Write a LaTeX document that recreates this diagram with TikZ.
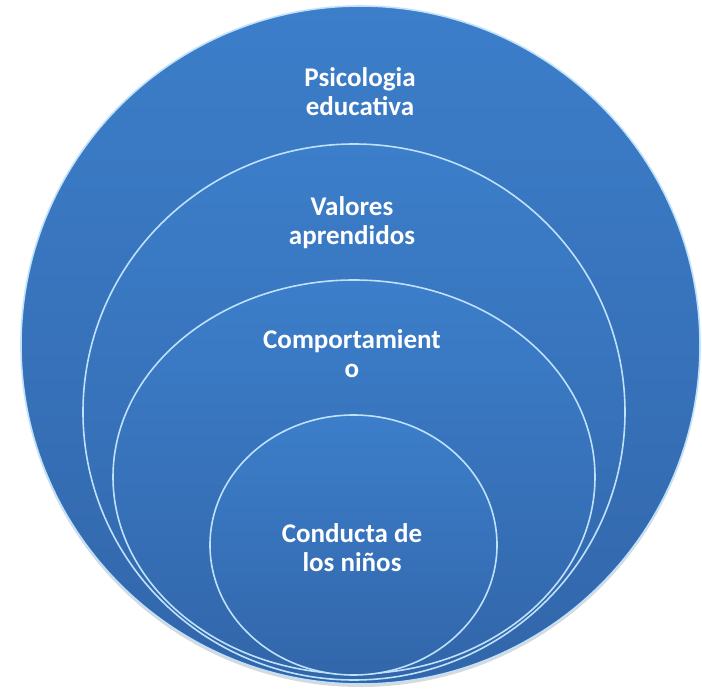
\documentclass[tikz,border=0pt]{standalone}
\usepackage{fontspec}
\setmainfont{Carlito}
\usetikzlibrary{shapes.geometric,shadows}
\definecolor{discTop}{RGB}{60,126,202}
\definecolor{discBot}{RGB}{50,102,170}
\definecolor{rimLight}{RGB}{190,225,252}
\newcommand{\ring}[3]{node[disc, minimum width=#2, minimum height=#3] (#1) {}}

\begin{document}
\begin{tikzpicture}[
      x=1pt, y=-1pt,
      disc/.style={ellipse, inner sep=0pt, top color=discTop, bottom color=discBot, draw=rimLight, line width=1.6pt},
      base/.style={drop shadow={shadow xshift=0pt, shadow yshift=-3pt, opacity=0.3}},
      lbl/.style={align=center, text=white, inner sep=0pt, font=\bfseries\fontsize{27}{29}\selectfont}
      ]
      \useasboundingbox (0,0) rectangle (702,692);
      % stacked circles, largest first
      \path (360.5,345) node[disc, base, minimum width=679pt, minimum height=678pt] (psico) {};
      \path (354,412) \ring{valores}{542pt}{536pt};
      \path (354,477) \ring{comport}{482pt}{394pt};
      \path (353.5,545) \ring{conducta}{287pt}{260pt};
      % labels
      \node[lbl] (psicotxt) at (360,92) {Psicologia\\educativa};
      \node[lbl] (valorestxt) at (352,223) {Valores\\aprendidos};
      \node[lbl] (comporttxt) at (352,354) {Comportamient\\o};
      \node[lbl] (conductatxt) at (352,548) {Conducta de\\los niños};
\end{tikzpicture}
\end{document}
